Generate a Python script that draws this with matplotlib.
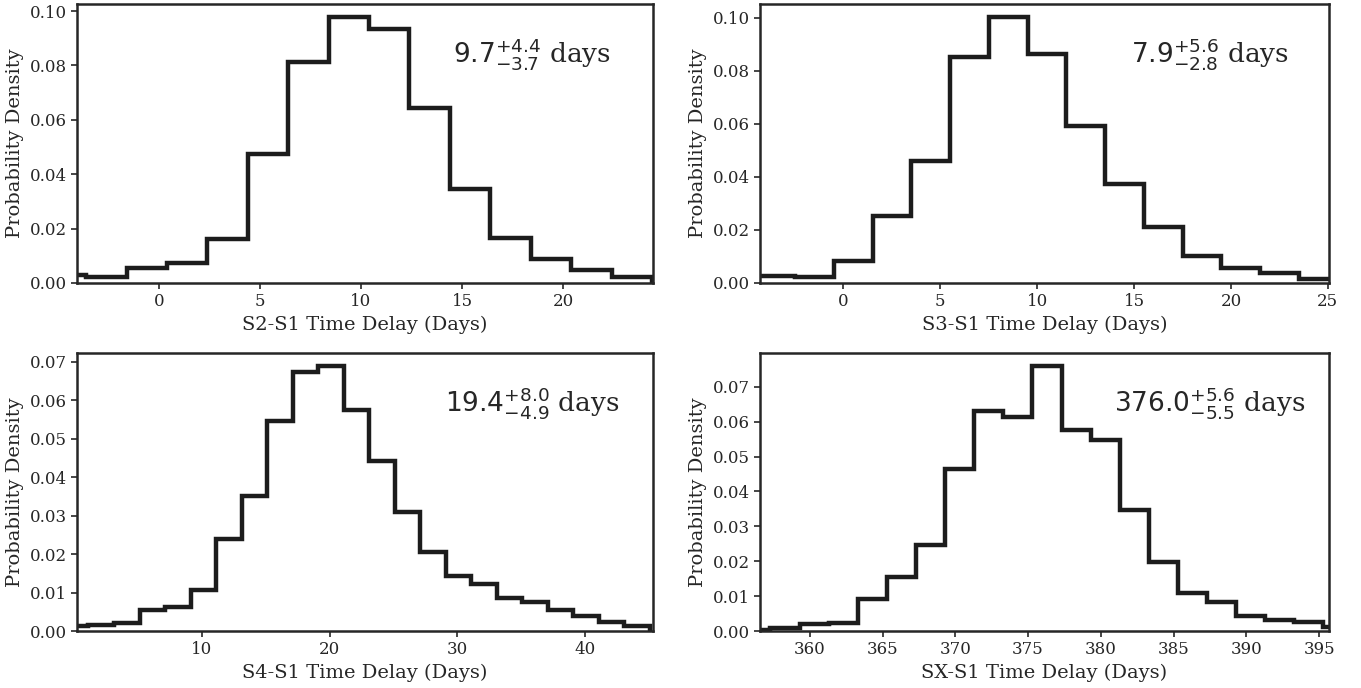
import numpy as np
import matplotlib
matplotlib.use('Agg')
import matplotlib.pyplot as plt

# histogram bin edges (2-day bins) and densities
edges_s2 = -5.6 + 2.0*np.arange(16)
dens_s2 = [0.0029, 0.0022, 0.0054, 0.0074, 0.0163, 0.0473, 0.0813, 0.0979,
           0.0934, 0.0644, 0.0345, 0.0165, 0.0090, 0.0049, 0.0021]

edges_s3 = -4.5 + 2.0*np.arange(16)
dens_s3 = [0.0025, 0.0021, 0.0084, 0.0252, 0.0462, 0.0853, 0.1004, 0.0864,
           0.0594, 0.0375, 0.0210, 0.0103, 0.0055, 0.0038, 0.0015]

edges_s4 = -0.9 + 2.0*np.arange(24)
dens_s4 = [0.0014, 0.0016, 0.0022, 0.0055, 0.0063, 0.0107, 0.0240, 0.0351,
           0.0545, 0.0673, 0.0688, 0.0573, 0.0441, 0.0309, 0.0204, 0.0143,
           0.0121, 0.0086, 0.0076, 0.0055, 0.0040, 0.0024, 0.0014]

edges_sx = 355.3 + 2.0*np.arange(22)
dens_sx = [0.0004, 0.0010, 0.0019, 0.0022, 0.0093, 0.0156, 0.0246, 0.0464,
           0.0631, 0.0614, 0.0759, 0.0575, 0.0548, 0.0346, 0.0198, 0.0110,
           0.0082, 0.0044, 0.0031, 0.0025, 0.0011]

labels = ['S2-S1', 'S3-S1', 'S4-S1', 'SX-S1']
xlims = [(-4.05, 24.45), (-4.31, 25.06), (0.2, 45.34), (356.58, 395.68)]
notes = [r'$9.7^{+4.4}_{-3.7}$ days', r'$7.9^{+5.6}_{-2.8}$ days',
         r'$19.4^{+8.0}_{-4.9}$ days', r'$376.0^{+5.6}_{-5.5}$ days']

plt.rcParams['font.family'] = 'DejaVu Serif'
plt.rcParams['text.color'] = '#262626'
plt.rcParams['axes.labelcolor'] = '#262626'
plt.rcParams['xtick.color'] = '#262626'
plt.rcParams['ytick.color'] = '#262626'

W, H = 1361, 688
fig = plt.figure(figsize=(W/100, H/100), dpi=100)
# axes boxes in pixels: left, right, top, bottom
boxes = [(77, 653, 3.5, 283), (760, 1329, 3.5, 283),
         (77, 653, 353, 631), (760, 1329, 353, 631)]

data = [(edges_s2, dens_s2), (edges_s3, dens_s3),
        (edges_s4, dens_s4), (edges_sx, dens_sx)]

for (l, r, t, b), (e, d), lab, xl, note in zip(boxes, data, labels, xlims, notes):
    ax = fig.add_axes([l/W, 1 - b/H, (r - l)/W, (b - t)/H])
    ax.stairs(d, e, color='#1c1c1c', lw=3.2)
    ax.set_xlim(*xl)
    ax.set_ylim(0, max(d)*1.05)
    ax.set_xlabel(lab + ' Time Delay (Days)', fontsize=14)
    ax.set_ylabel('Probability Density', fontsize=14)
    ax.tick_params(labelsize=12, width=1.2, length=4)
    for s in ax.spines.values():
        s.set_linewidth(1.8)
        s.set_color('#262626')
    ax.text(0.79, 0.82, note, transform=ax.transAxes, ha='center', va='center',
            fontsize=19)

fig.savefig('out.png', dpi=100)
